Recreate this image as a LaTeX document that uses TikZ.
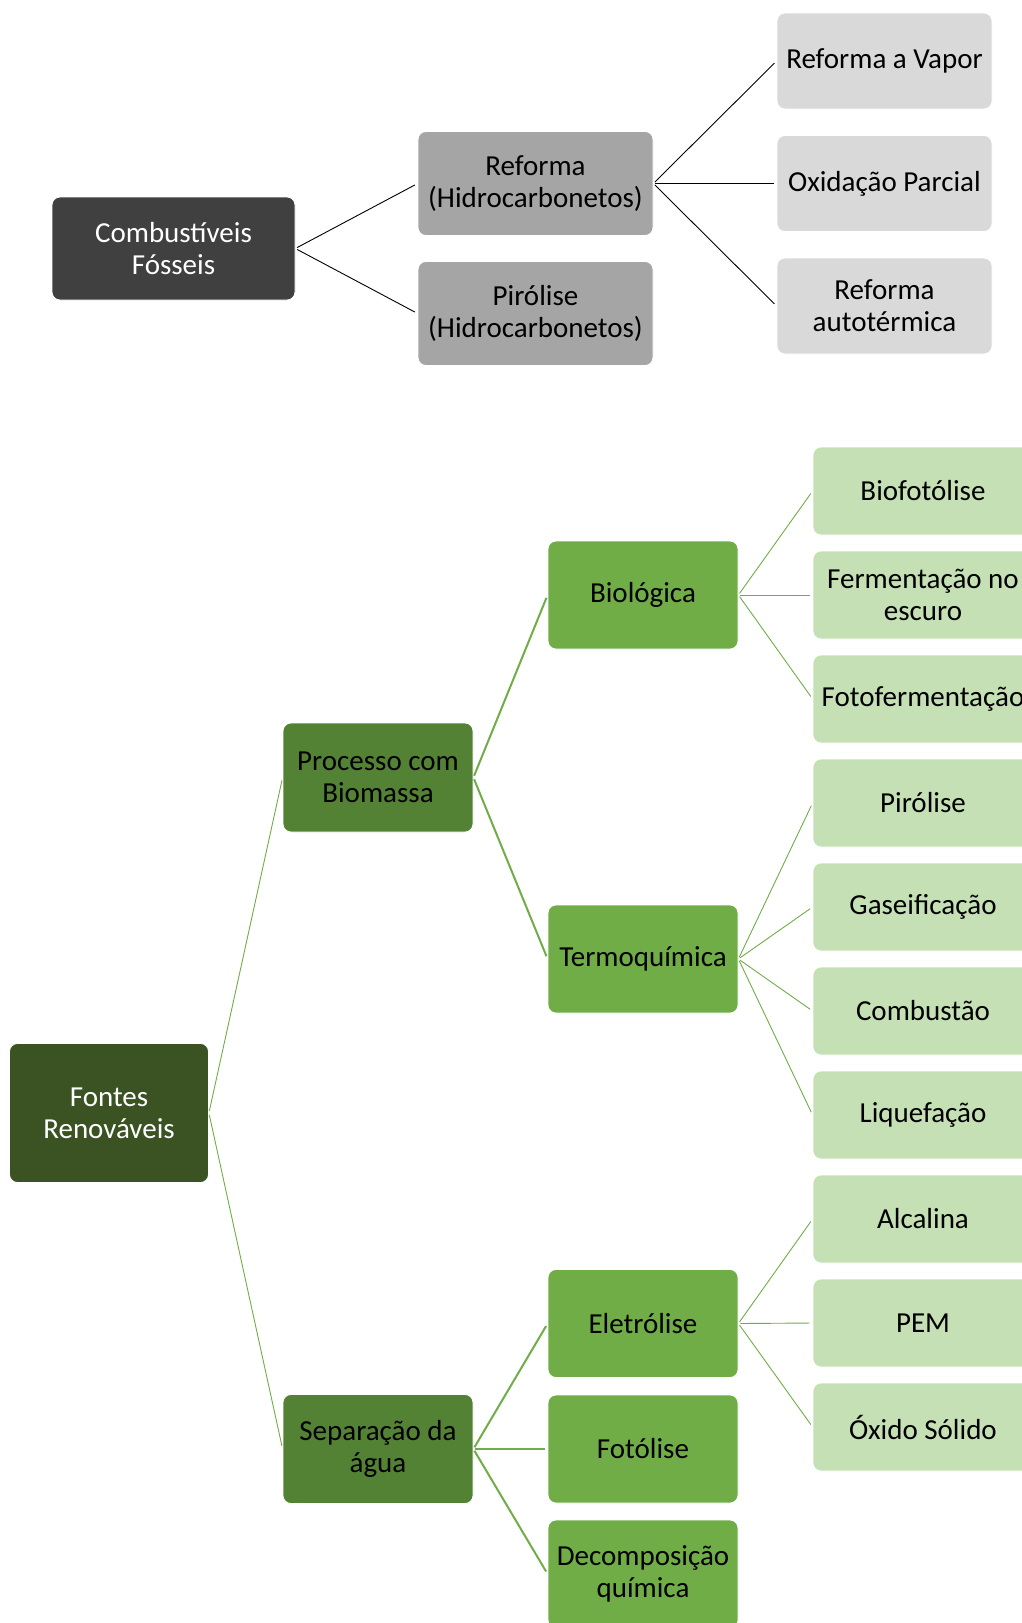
\documentclass[tikz,border=0pt]{standalone}
\usepackage{fontspec}
\setmainfont{Carlito}
\definecolor{cfoss}{HTML}{404040}
\definecolor{cmid}{HTML}{A5A5A5}
\definecolor{clight}{HTML}{D9D9D9}
\definecolor{gdark}{HTML}{3B5323}
\definecolor{gmid}{HTML}{548235}
\definecolor{gbox}{HTML}{70AD47}
\definecolor{glight}{HTML}{C5E0B4}
\begin{document}
\begin{tikzpicture}[x=1pt,y=-1pt,
  box/.style={rounded corners=8pt,draw=white,line width=0.8pt,align=center,inner sep=0pt,
    font=\fontsize{29}{32}\selectfont},
  foss/.style={box,fill=cfoss,text=white,minimum width=243pt,minimum height=103pt},
  hcmid/.style={box,fill=cmid,text=black,minimum width=235pt,minimum height=104pt},
  hcleaf/.style={box,fill=clight,text=black,minimum width=215pt,minimum height=96pt},
  renov/.style={box,fill=gdark,text=white,minimum width=199pt,minimum height=139pt},
  gsecond/.style={box,fill=gmid,text=black,minimum width=190pt,minimum height=109pt},
  gthird/.style={box,fill=gbox,text=black,minimum width=190pt,minimum height=108pt},
  gleaf/.style={box,fill=glight,text=black,minimum width=220pt,minimum height=88pt},
  blk/.style={draw=black,line width=0.9pt,shorten <=2pt,shorten >=3pt},
  gthin/.style={draw=gbox,line width=0.9pt,shorten <=2pt,shorten >=3pt},
  gthick/.style={draw=gbox,line width=2pt,shorten <=2pt,shorten >=3pt}]
\useasboundingbox (0,0) rectangle (1022,1623);
\clip (0,0) rectangle (1022,1623);
% top tree
\node[foss] (cf) at (173.5,248.5) {Combustíveis\\Fósseis};
\node[hcmid] (ref) at (535.5,183.5) {Reforma\\(Hidrocarbonetos)};
\node[hcmid] (pir) at (535.5,313.5) {Pirólise\\(Hidrocarbonetos)};
\node[hcleaf] (vap) at (884.5,61) {Reforma a Vapor};
\node[hcleaf] (oxi) at (884.5,183.5) {Oxidação Parcial};
\node[hcleaf] (aut) at (884.5,306) {Reforma\\autotérmica};
\draw[blk] (cf.east) -- (ref.west);
\draw[blk] (cf.east) -- (pir.west);
\draw[blk] (ref.east) -- (vap.west);
\draw[blk] (ref.east) -- (oxi.west);
\draw[blk] (ref.east) -- (aut.west);
% bottom tree
\node[renov] (fr) at (109,1113) {Fontes\\Renováveis};
\node[gsecond] (bio) at (378,777.5) {Processo com\\Biomassa};
\node[gsecond] (sep) at (378,1449) {Separação da\\água};
\node[gthird] (biol) at (643,595) {Biológica};
\node[gthird] (term) at (643,959) {Termoquímica};
\node[gthird] (ele) at (643,1323.5) {Eletrólise};
\node[gthird] (fot) at (643,1449) {Fotólise};
\node[gthird] (dec) at (643,1574) {Decomposição\\química};
\node[gleaf] (l1) at (923,491) {Biofotólise};
\node[gleaf] (l2) at (923,595) {Fermentação no\\escuro};
\node[gleaf] (l3) at (923,699) {Fotofermentação};
\node[gleaf] (l4) at (923,803) {Pirólise};
\node[gleaf] (l5) at (923,907) {Gaseificação};
\node[gleaf] (l6) at (923,1011) {Combustão};
\node[gleaf] (l7) at (923,1115) {Liquefação};
\node[gleaf] (l8) at (923,1219) {Alcalina};
\node[gleaf] (l9) at (923,1323) {PEM};
\node[gleaf] (l10) at (923,1427) {Óxido Sólido};
\draw[gthin] (fr.east) -- (bio.west);
\draw[gthin] (fr.east) -- (sep.west);
\draw[gthick] (bio.east) -- (biol.west);
\draw[gthick] (bio.east) -- (term.west);
\draw[gthick] (sep.east) -- (ele.west);
\draw[gthick] (sep.east) -- (fot.west);
\draw[gthick] (sep.east) -- (dec.west);
\foreach \t in {l1,l2,l3} \draw[gthin] (biol.east) -- (\t.west);
\foreach \t in {l4,l5,l6,l7} \draw[gthin] (term.east) -- (\t.west);
\foreach \t in {l8,l9,l10} \draw[gthin] (ele.east) -- (\t.west);
\end{tikzpicture}
\end{document}
